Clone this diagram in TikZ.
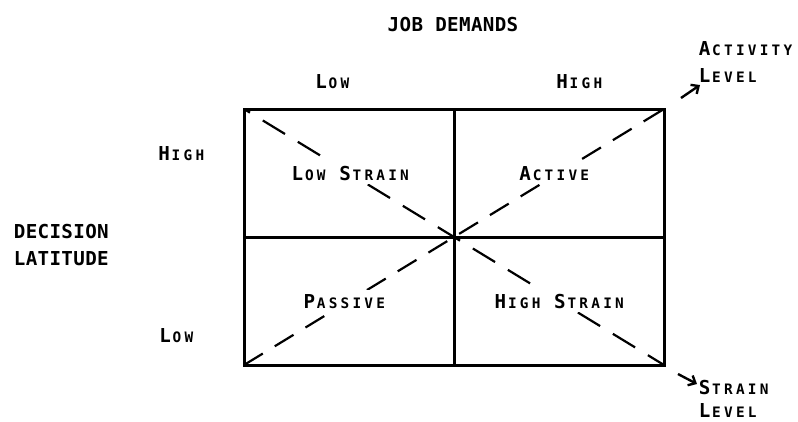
\documentclass[tikz,border=0pt]{standalone}
\usepackage{fontspec}
\setmonofont{DejaVu Sans Mono}
\usetikzlibrary{arrows.meta}

% fixed-pitch lettering: every character sits in a cell of equal width
\newcommand\lblcell[1]{\makebox[11.9pt][c]{#1}}
\def\cellrun#1{\ifx#1\relax\else\lblcell{#1}\expandafter\cellrun\fi}
\newcommand\BigCh[1]{{\fontsize{19.2}{20}\selectfont\cellrun#1\relax}}
\newcommand\SmCh[1]{{\fontsize{14.4}{16}\selectfont\cellrun#1\relax}}

\tikzset{
  lbl/.style={font=\ttfamily\bfseries, inner sep=0pt, anchor=base},
  quad/.style={lbl, fill=white, inner sep=4pt},
  gridline/.style={line width=3pt, line cap=rect},
  diagA/.style={line width=2.2pt, dash pattern=on 26pt off 15pt, dash phase=19pt},
  diagB/.style={line width=2.2pt, dash pattern=on 22pt off 14pt},
  lvlarrow/.style={line width=2.4pt, -{Straight Barb[length=6pt,width=11pt,line width=2.4pt]}}
}

\begin{document}
\begin{tikzpicture}[x=1pt, y=-1pt]
  \useasboundingbox (0,0) rectangle (798,421);

  % corners and midpoints of the grid
  \coordinate (tl) at (244,109);
  \coordinate (tr) at (664,109);
  \coordinate (bl) at (244,365);
  \coordinate (br) at (664,365);
  \coordinate (tm) at (454,109);
  \coordinate (bm) at (454,365);
  \coordinate (lm) at (244,237);
  \coordinate (rm) at (664,237);

  % arrow stubs beyond the grid
  \coordinate (actS) at (681,98);
  \coordinate (actE) at (700,85);
  \coordinate (strS) at (678,374);
  \coordinate (strE) at (697,384);

  % dashed diagonals
  \draw[diagA] (tl) -- (br);
  \draw[diagB] (bl) -- (tr);

  % two by two grid
  \draw[gridline] (tl) rectangle (br);
  \draw[gridline] (tm) -- (bm);
  \draw[gridline] (lm) -- (rm);

  % level arrows
  \draw[lvlarrow] (actS) -- (actE);
  \draw[lvlarrow] (strS) -- (strE);

  % axis titles
  \node[lbl] (jd) at (453,31) {\BigCh{JOB~DEMANDS}};
  \node[lbl] (jdlow) at (333,88) {\BigCh{L}\SmCh{OW}};
  \node[lbl] (jdhigh) at (580,88) {\BigCh{H}\SmCh{IGH}};

  \node[lbl, anchor=base west] (dl1) at (13.5,238) {\BigCh{DECISION}};
  \node[lbl, anchor=base west] (dl2) at (13.5,265) {\BigCh{LATITUDE}};
  \node[lbl] (dlhigh) at (182,160) {\BigCh{H}\SmCh{IGH}};
  \node[lbl] (dllow) at (177,342) {\BigCh{L}\SmCh{OW}};

  % quadrant names
  \node[quad] (qls) at (351,180) {\BigCh{L}\SmCh{OW~}\BigCh{S}\SmCh{TRAIN}};
  \node[quad] (qac) at (555,180) {\BigCh{A}\SmCh{CTIVE}};
  \node[quad] (qpa) at (345,308) {\BigCh{P}\SmCh{ASSIVE}};
  \node[quad] (qhs) at (560,308) {\BigCh{H}\SmCh{IGH~}\BigCh{S}\SmCh{TRAIN}};

  % arrow captions
  \node[lbl, anchor=base west] (al1) at (698.5,55) {\BigCh{A}\SmCh{CTIVITY}};
  \node[lbl, anchor=base west] (al2) at (698.5,82) {\BigCh{L}\SmCh{EVEL}};
  \node[lbl, anchor=base west] (sl1) at (698.5,394) {\BigCh{S}\SmCh{TRAIN}};
  \node[lbl, anchor=base west] (sl2) at (698.5,417) {\BigCh{L}\SmCh{EVEL}};
\end{tikzpicture}
\end{document}
